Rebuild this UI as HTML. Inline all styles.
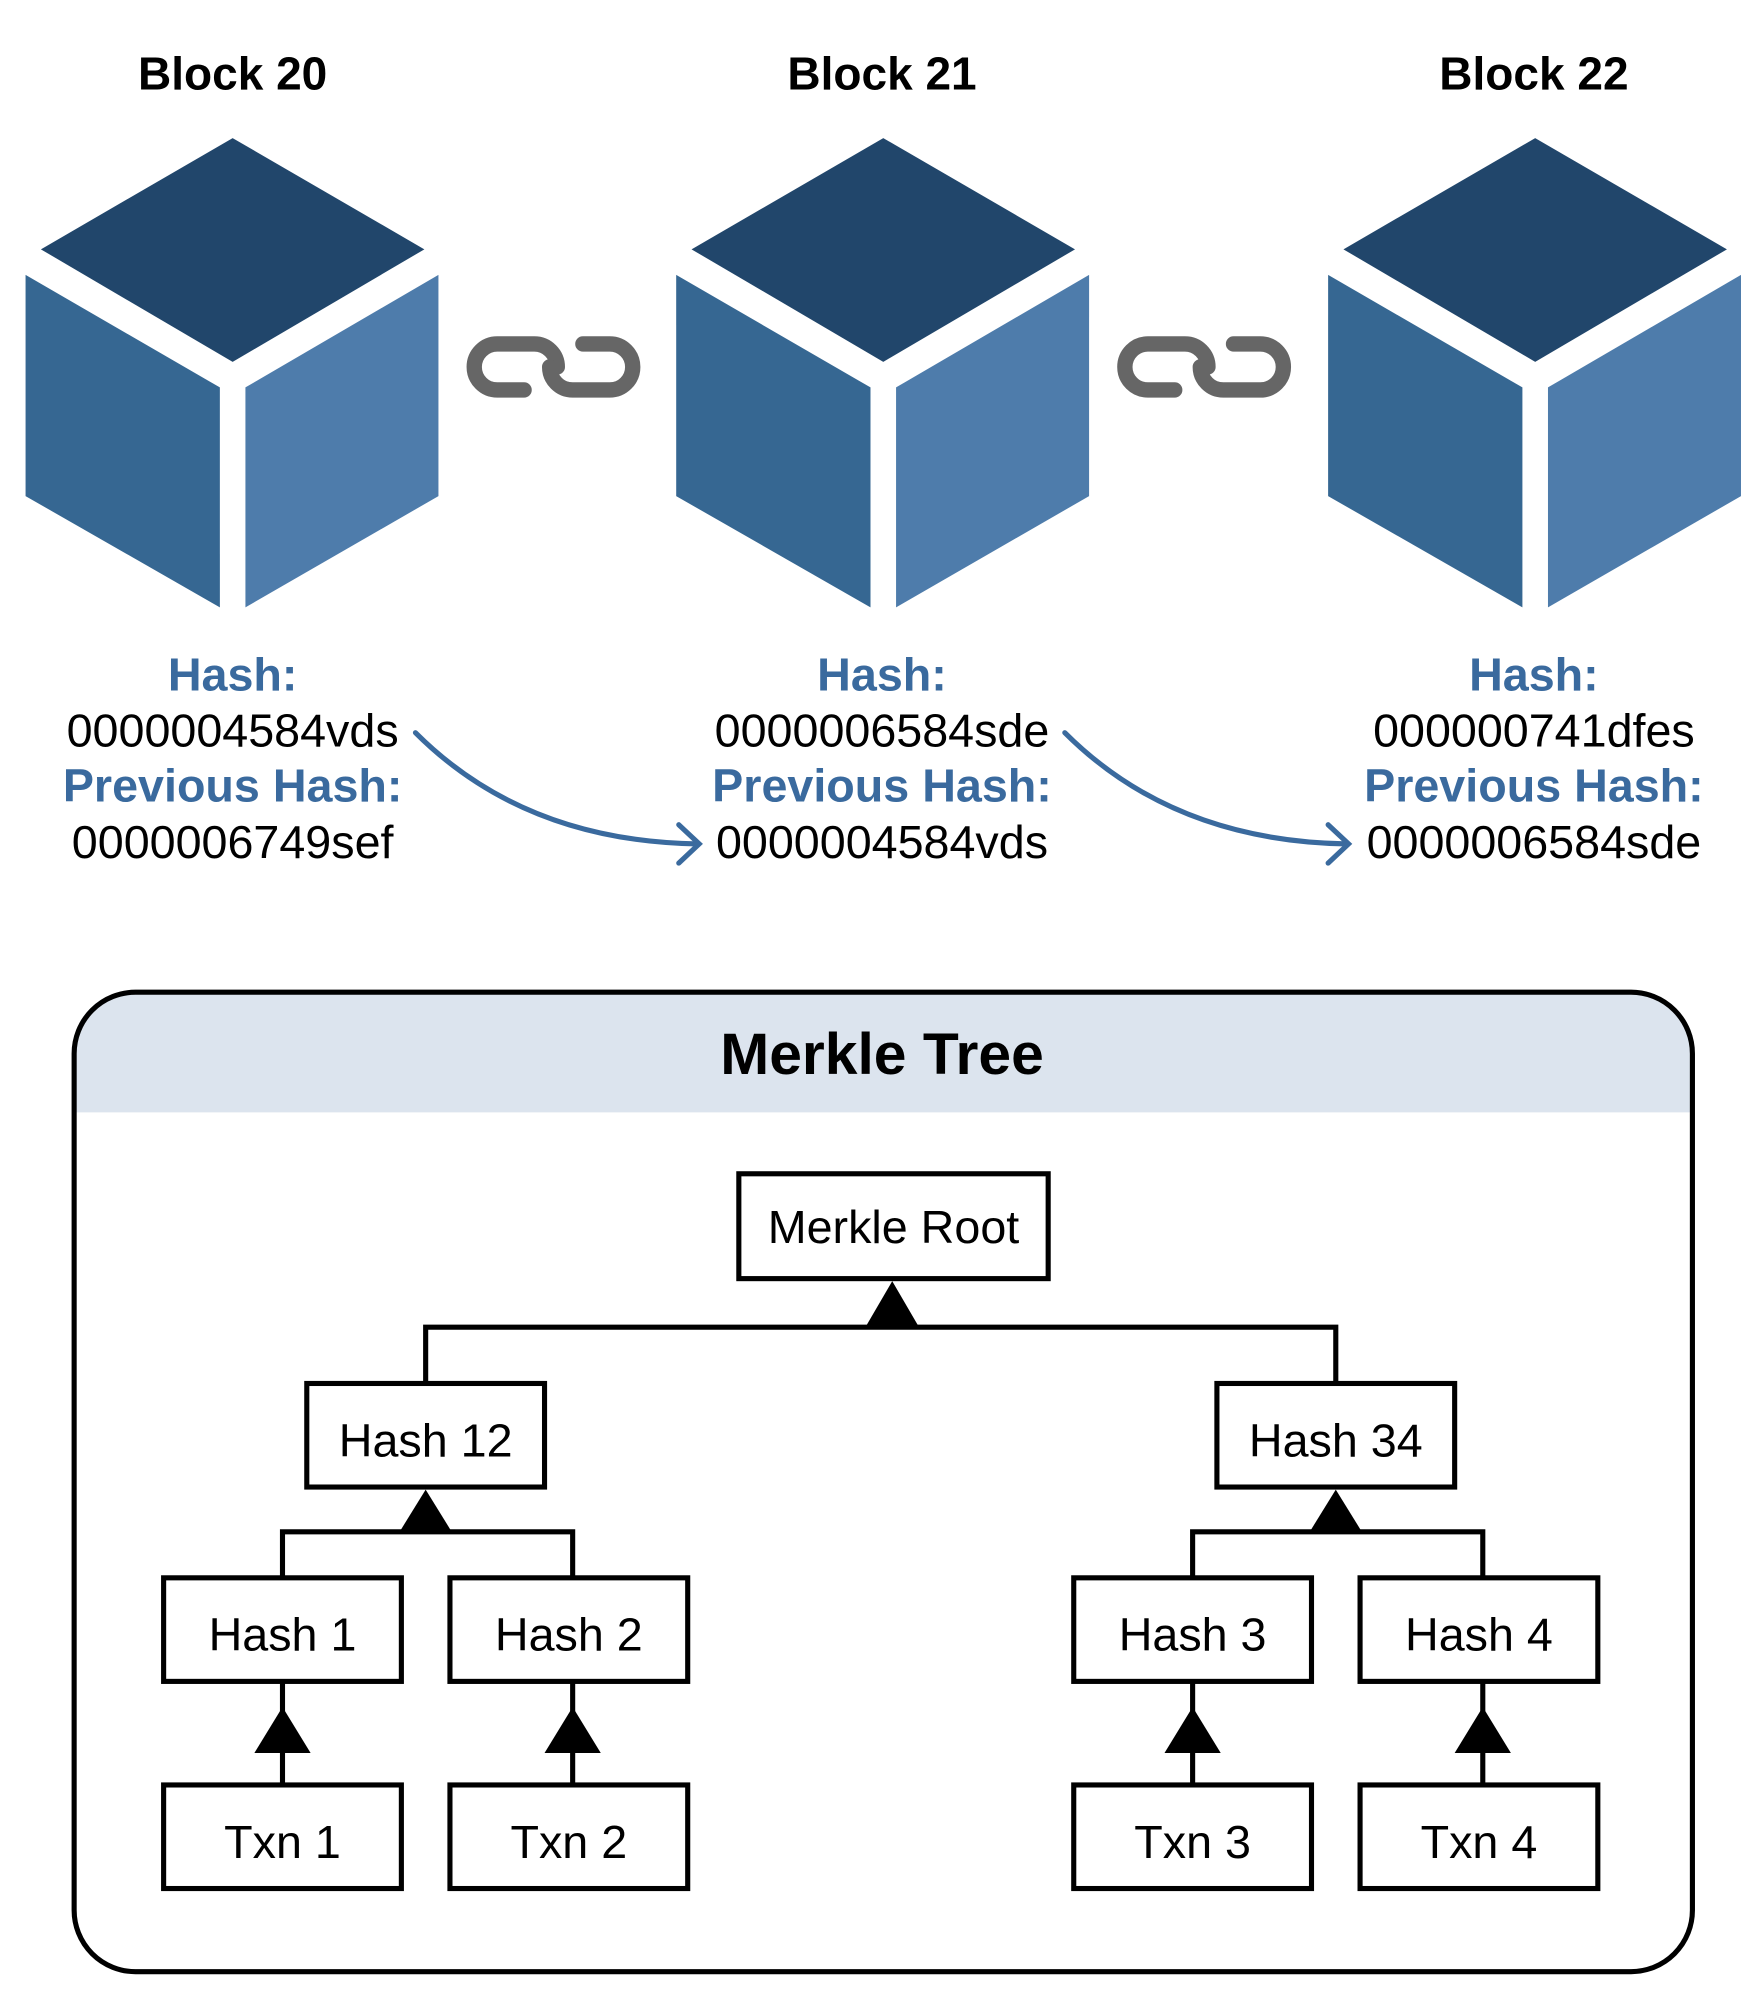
<!DOCTYPE html>
<html><head><meta charset="utf-8"><style>
html,body{margin:0;padding:0;background:#fff;}
svg{display:block;}
text{font-family:"Liberation Sans",Arial,sans-serif;}
</style></head><body>
<svg width="1764" height="2010" viewBox="0 0 1380 1572" preserveAspectRatio="none" xmlns="http://www.w3.org/2000/svg">
<defs>
<g id="cube">
<polygon points="182,108 332,195 182,283 32,195" fill="#21466b"/>
<polygon points="20,215 172,303 172,475 20,388" fill="#366792"/>
<polygon points="192,303 343,215 343,388 192,475" fill="#4e7cab"/>
</g>
<g id="link" fill="none" stroke="#666" stroke-width="12" stroke-linecap="round">
<path d="M410,305 H389 A18,18 0 0 1 389,269 H418 A18,18 0 0 1 436,287"/>
<path d="M456,269 H477 A18,18 0 0 1 477,305 H448 A18,18 0 0 1 430,287"/>
</g>
</defs>
<use href="#cube"/>
<use href="#cube" x="509"/>
<use href="#cube" x="1019"/>
<use href="#link"/>
<use href="#link" x="509"/>

<g font-weight="bold" font-size="36" text-anchor="middle" fill="#000">
<text x="182" y="70">Block 20</text>
<text x="690" y="70">Block 21</text>
<text x="1200" y="70">Block 22</text>
</g>

<g text-anchor="middle" font-size="36.5">
<g font-weight="bold" fill="#3a6a9e">
<text x="182" y="540">Hash:</text>
<text x="182" y="627">Previous Hash:</text>
<text x="690" y="540">Hash:</text>
<text x="690" y="627">Previous Hash:</text>
<text x="1200" y="540">Hash:</text>
<text x="1200" y="627">Previous Hash:</text>
</g>
<g fill="#000">
<text x="182" y="584">0000004584vds</text>
<text x="182" y="671">0000006749sef</text>
<text x="690" y="584">0000006584sde</text>
<text x="690" y="671">0000004584vds</text>
<text x="1200" y="584">000000741dfes</text>
<text x="1200" y="671">0000006584sde</text>
</g>
</g>

<g fill="none" stroke="#3a6a9e" stroke-width="4" stroke-linecap="round">
<path d="M325,573 Q410,658 546,660"/>
<path d="M531,645 L547,660 L531,675"/>
<path d="M833,573 Q918,658 1054,660"/>
<path d="M1039,645 L1055,660 L1039,675"/>
</g>

<path d="M107,777 H1275 A48,48 0 0 1 1323,825 V870 H59 V825 A48,48 0 0 1 107,777 Z" fill="#dce4ee"/>
<rect x="58" y="776" width="1266" height="766" rx="48" ry="48" fill="none" stroke="#000" stroke-width="4"/>
<text x="690" y="840" text-anchor="middle" font-weight="bold" font-size="46">Merkle Tree</text>

<g fill="none" stroke="#000" stroke-width="4">
<path d="M333,1082 V1038 H1045 V1082"/>
<path d="M221,1234 V1198 H448 V1234"/>
<path d="M933,1234 V1198 H1160 V1234"/>
<path d="M221,1315 V1396 M448,1315 V1396 M933,1315 V1396 M1160,1315 V1396"/>
<rect x="578" y="918" width="242" height="82" fill="#fff"/>
<rect x="240" y="1082" width="186" height="81" fill="#fff"/>
<rect x="952" y="1082" width="186" height="81" fill="#fff"/>
<rect x="128" y="1234" width="186" height="81" fill="#fff"/>
<rect x="352" y="1234" width="186" height="81" fill="#fff"/>
<rect x="840" y="1234" width="186" height="81" fill="#fff"/>
<rect x="1064" y="1234" width="186" height="81" fill="#fff"/>
<rect x="128" y="1396" width="186" height="81" fill="#fff"/>
<rect x="352" y="1396" width="186" height="81" fill="#fff"/>
<rect x="840" y="1396" width="186" height="81" fill="#fff"/>
<rect x="1064" y="1396" width="186" height="81" fill="#fff"/>
</g>
<g fill="#000">
<polygon points="698,1002 677,1038 719,1038"/>
<polygon points="333,1165 312,1199 354,1199"/>
<polygon points="1045,1165 1024,1199 1066,1199"/>
<polygon points="221,1335 199,1371 243,1371"/>
<polygon points="448,1335 426,1371 470,1371"/>
<polygon points="933,1335 911,1371 955,1371"/>
<polygon points="1160,1335 1138,1371 1182,1371"/>
</g>
<g text-anchor="middle" font-size="36.5" fill="#000">
<text x="699" y="972">Merkle Root</text>
<text x="333" y="1139">Hash 12</text>
<text x="1045" y="1139">Hash 34</text>
<text x="221" y="1291">Hash 1</text>
<text x="445" y="1291">Hash 2</text>
<text x="933" y="1291">Hash 3</text>
<text x="1157" y="1291">Hash 4</text>
<text x="221" y="1453">Txn 1</text>
<text x="445" y="1453">Txn 2</text>
<text x="933" y="1453">Txn 3</text>
<text x="1157" y="1453">Txn 4</text>
</g>
</svg>
</body></html>
